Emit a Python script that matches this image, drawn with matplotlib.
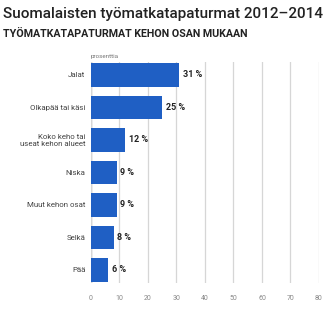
import matplotlib.pyplot as plt

categories = ['Jalat', 'Olkapää tai käsi', 'Koko keho tai\nuseat kehon alueet',
              'Niska', 'Muut kehon osat', 'Selkä', 'Pää']
values = [31, 25, 12, 9, 9, 8, 6]
xticks = [0, 10, 20, 30, 40, 50, 60, 70, 80]

plt.rcParams['font.family'] = ['Roboto', 'DejaVu Sans']

fig = plt.figure(figsize=(3.35, 3.1), dpi=100)
ax = fig.add_axes([0.2716, 0.0871, 0.6806, 0.7129])

pos = list(range(len(categories)))
ax.barh(pos, values, height=0.72, color='#1f5fc4', zorder=3)

for p, v in zip(pos, values):
    ax.text(v + 1.2, p, f'{v} %', va='center', ha='left', fontsize=6.5,
            fontweight='bold', color='#222222', zorder=4)

ax.set_xlim(0, 80)
ax.set_ylim(6.4, -0.4)
ax.set_xticks(xticks)
ax.set_xticklabels([str(t) for t in xticks], fontsize=5, color='#888888')
ax.set_yticks(pos)
ax.set_yticklabels(categories, fontsize=5.7, color='#444444')
ax.tick_params(axis='y', length=0, pad=4)
ax.tick_params(axis='x', length=0, pad=9)
for s in ax.spines.values():
    s.set_visible(False)
ax.grid(axis='x', color='#d6d6d6', linewidth=0.9, zorder=0)
ax.axvline(0, color='#b0b0b0', linewidth=1, zorder=1)

fig.text(0.01, 0.955, 'Suomalaisten työmatkatapaturmat 2012–2014', fontsize=11,
         fontweight='medium', color='#222222', va='center', ha='left')
fig.text(0.01, 0.89, 'TYÖMATKATAPATURMAT KEHON OSAN MUKAAN', fontsize=7.7,
         fontweight='bold', color='#222222', va='center', ha='left')
fig.text(0.2716, 0.817, 'prosenttia', fontsize=4.5, color='#777777',
         va='center', ha='left')

fig.savefig('out.png', dpi=100, facecolor='white')
